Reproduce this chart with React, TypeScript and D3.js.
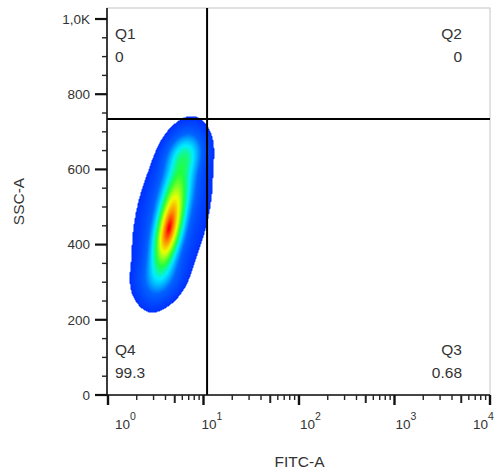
import React, { useMemo } from 'react';
import * as d3 from 'd3';

// ---- axis data ----
const xDomain: [number, number] = [1, 10000];
const yDomain: [number, number] = [0, 1000];
const xMajorTicks = [1, 10, 100, 1000, 10000];
const xTickExponents = ['0', '1', '2', '3', '4'];
const yMajorTicks = [0, 200, 400, 600, 800, 1000];
const yTickLabels = ['0', '200', '400', '600', '800', '1,0K'];
const yMinorStep = 50;
const xTitle = 'FITC-A';
const yTitle = 'SSC-A';

// ---- quadrant gate ----
const xGate = 10.9;
const yGate = 734;
const quadrantNames = ['Q1', 'Q2', 'Q3', 'Q4'];
const quadrantPercents = ['0', '0', '0.68', '99.3'];

// ---- population (density clusters) ----
const clusterFITC = [4.25, 5.28, 6.35, 3.45, 4.71];
const clusterSSC = [430, 545, 640, 312, 480];
const clusterSpreadDecades = [0.085, 0.1, 0.11, 0.13, 0.24];
const clusterSpreadSSC = [65, 68, 34, 36, 140];
const clusterWeight = [1, 0.45, 0.25, 0.12, 0.09];
const ridgeSlope = 0.00076; // decades of FITC per SSC unit
const densityFloor = 0.02;

const colorStops = [0, 0.25, 0.43, 0.55, 0.7, 0.84, 0.97];
const colorValues = ['#0030ff', '#0064ff', '#00eeff', '#20ff40', '#f0ff00', '#ff8000', '#ff0000'];

export default function App() {
  const W = 494, H = 475;
  const left = 107, right = 490, top = 8, bottom = 395;
  const x = d3.scaleLog().domain(xDomain).range([108, 490]);
  const y = d3.scaleLinear().domain(yDomain).range([395, 19]);
  const color = d3.scaleLinear<string>().domain(colorStops).range(colorValues).clamp(true);

  const bands = useMemo(() => {
    const x0 = 108, y0 = 8;
    const n = right - x0, m = bottom - y0;
    const dens = new Float64Array(n * m);
    let max = 0;
    for (let j = 0; j < m; j++) {
      const s = y.invert(y0 + j + 0.5);
      for (let i = 0; i < n; i++) {
        const lx = Math.log10(x.invert(x0 + i + 0.5));
        let d = 0;
        for (let k = 0; k < clusterWeight.length; k++) {
          const ds = s - clusterSSC[k];
          const dx = lx - Math.log10(clusterFITC[k]) - ridgeSlope * ds;
          const a = ds / clusterSpreadSSC[k];
          const b = dx / clusterSpreadDecades[k];
          d += clusterWeight[k] * Math.exp(-0.5 * (a * a + b * b));
        }
        dens[j * n + i] = d;
        if (d > max) max = d;
      }
    }
    const L = Math.log(1 / densityFloor);
    const c = new Array(n * m);
    for (let q = 0; q < n * m; q++) {
      const r = dens[q] / max;
      c[q] = r < densityFloor ? -1 : 1 - Math.sqrt(Math.log(1 / r) / L);
    }
    const step = 1 / 50;
    const th = d3.range(0, 1, step).map((t) => (t === 0 ? 1e-6 : t));
    const cs = d3.contours().size([n, m]).thresholds(th)(c);
    return { cs, x0, y0, step };
  }, []);

  const path = d3.geoPath();
  const font = "'Liberation Sans', Arial, sans-serif";
  const textColor = '#333';

  const yMinor = d3.range(yDomain[0], yDomain[1] + 1, yMinorStep).filter((v) => !yMajorTicks.includes(v));
  const xMinor: { v: number; five: boolean }[] = [];
  for (let p = 0; p < xMajorTicks.length - 1; p++) {
    for (let k = 2; k <= 9; k++) xMinor.push({ v: k * xMajorTicks[p], five: k === 5 });
  }
  const xLabelDx = [7, -2, 1, 1, -17];

  const gx = x(xGate);
  const gy = y(yGate);

  return (
    <svg width={W} height={H} style={{ position: 'absolute', left: 0, top: 0, background: '#fff' }} fontFamily={font}>
      <rect x={left} y={top} width={right - left} height={bottom - top} fill="#fff" stroke="#c4c4c4" strokeWidth={1} />
      <g transform={`translate(${bands.x0},${bands.y0})`}>
        {bands.cs.map((ct, idx) => (
          <path key={idx} d={path(ct as any) || ''} fill={color(Math.min(1, ct.value + bands.step / 2))} stroke="none" />
        ))}
      </g>
      {/* quadrant lines */}
      <line x1={gx} x2={gx} y1={top} y2={bottom} stroke="#000" strokeWidth={2} />
      <line x1={left} x2={right} y1={gy} y2={gy} stroke="#000" strokeWidth={2} />
      {/* quadrant labels */}
      <g fill={textColor} fontSize={15.5}>
        <text x={115} y={39}>{quadrantNames[0]}</text>
        <text x={115} y={62}>{quadrantPercents[0]}</text>
        <text x={462} y={39} textAnchor="end">{quadrantNames[1]}</text>
        <text x={462} y={62} textAnchor="end">{quadrantPercents[1]}</text>
        <text x={462} y={355} textAnchor="end">{quadrantNames[2]}</text>
        <text x={462} y={378} textAnchor="end">{quadrantPercents[2]}</text>
        <text x={115} y={355}>{quadrantNames[3]}</text>
        <text x={115} y={378}>{quadrantPercents[3]}</text>
      </g>
      {/* axes */}
      <line x1={left} x2={left} y1={top} y2={bottom} stroke="#111" strokeWidth={1.6} />
      <line x1={left} x2={right} y1={bottom} y2={bottom} stroke="#111" strokeWidth={1.6} />
      {yMajorTicks.map((v) => (
        <line key={'ym' + v} x1={95} x2={left} y1={y(v)} y2={y(v)} stroke="#111" strokeWidth={2.2} />
      ))}
      {yMinor.map((v) => (
        <line key={'yn' + v} x1={102} x2={left} y1={y(v)} y2={y(v)} stroke="#222" strokeWidth={1.4} />
      ))}
      {yMajorTicks.map((v, i) => (
        <text key={'yl' + v} x={90} y={y(v)} dy="0.36em" textAnchor="end" fontSize={13.5} fill={textColor}>{yTickLabels[i]}</text>
      ))}
      {xMajorTicks.map((v) => (
        <line key={'xm' + v} x1={x(v)} x2={x(v)} y1={bottom} y2={bottom + 10} stroke="#111" strokeWidth={2.4} />
      ))}
      {xMinor.map((t) => (
        <line key={'xn' + t.v} x1={x(t.v)} x2={x(t.v)} y1={bottom} y2={bottom + (t.five ? 8 : 5)} stroke="#222" strokeWidth={t.five ? 2 : 1.4} />
      ))}
      {xMajorTicks.map((v, i) => (
        <text key={'xl' + v} x={x(v) + xLabelDx[i]} y={429} fontSize={13.5} fill={textColor}>
          10<tspan dy={-9} fontSize={10.5}>{xTickExponents[i]}</tspan>
        </text>
      ))}
      <text x={(left + right) / 2 + 1} y={467} textAnchor="middle" fontSize={15.5} fill={textColor}>{xTitle}</text>
      <text transform={`translate(24,${(top + bottom) / 2}) rotate(-90)`} textAnchor="middle" fontSize={15.5} fill={textColor}>{yTitle}</text>
    </svg>
  );
}
